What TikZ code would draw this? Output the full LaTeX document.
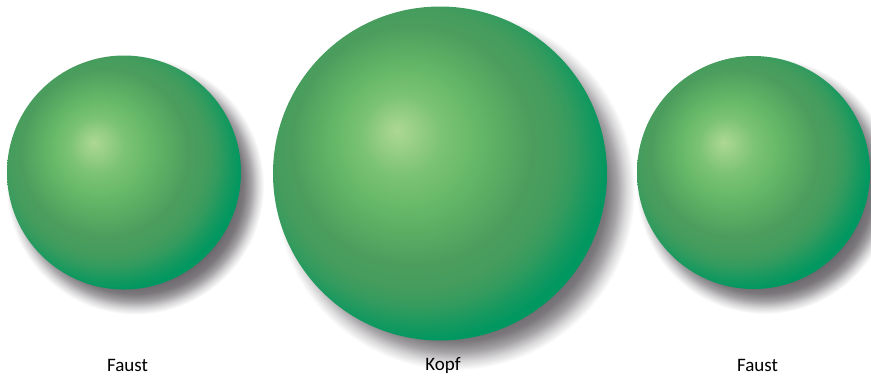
\documentclass[tikz,border=0pt]{standalone}
\usepackage{fontspec}
\setmainfont{Carlito}
\usepackage{tikz}

\definecolor{ballhl}{HTML}{ADD893}
\definecolor{ballmid}{HTML}{68BA69}
\definecolor{ballbody}{HTML}{4C9D5D}
\definecolor{ballrim}{HTML}{009760}
\definecolor{shadegray}{HTML}{69656A}

% the edge of a shaded path sits at 25bp
\pgfdeclareradialshading{greenball}{\pgfpoint{-6.5bp}{6.5bp}}{%
  color(0bp)=(ballhl); color(3bp)=(ballhl!65!ballmid);
  color(6bp)=(ballhl!28!ballmid); color(10bp)=(ballmid);
  color(14bp)=(ballmid!50!ballbody); color(18bp)=(ballbody);
  color(21bp)=(ballbody!90!ballrim); color(23.5bp)=(ballbody!68!ballrim);
  color(26bp)=(ballbody!28!ballrim); color(28bp)=(ballrim);
  color(50bp)=(ballrim)}
\pgfdeclareradialshading{softshade}{\pgfpointorigin}{%
  color(0bp)=(shadegray); color(19bp)=(shadegray);
  color(21bp)=(shadegray!88!white); color(22.5bp)=(shadegray!60!white);
  color(23.8bp)=(shadegray!25!white); color(25bp)=(white);
  color(50bp)=(white)}

\tikzset{
  ball/.style={circle, inner sep=0pt, minimum size=#1, shading=greenball},
  shade/.style={circle, inner sep=0pt, minimum size=#1, shading=softshade},
  tag/.style={anchor=base, font=\fontsize{19}{22}\selectfont}
}

\begin{document}
\begin{tikzpicture}[x=1pt,y=-1pt]
  \useasboundingbox[fill=white] (0,0) rectangle (871,376);
  % shadows first, down and to the right
  \node[shade=258pt] (faustlshade) at (135,185.5) {};
  \node[shade=360pt] (kopfshade) at (455,190) {};
  \node[shade=257pt] (faustrshade) at (764.5,185.5) {};
  % the three spheres, the middle one larger
  \node[ball=234pt] (faustl) at (124,172.5) {};
  \node[ball=334pt] (kopf) at (440,173.5) {};
  \node[ball=233pt] (faustr) at (753.5,172.5) {};
  % names on one base line
  \node[tag] (faustltag) at (127.5,371) {Faust};
  \node[tag] (kopftag) at (443,370) {Kopf};
  \node[tag] (faustrtag) at (757.5,371) {Faust};
\end{tikzpicture}
\end{document}
